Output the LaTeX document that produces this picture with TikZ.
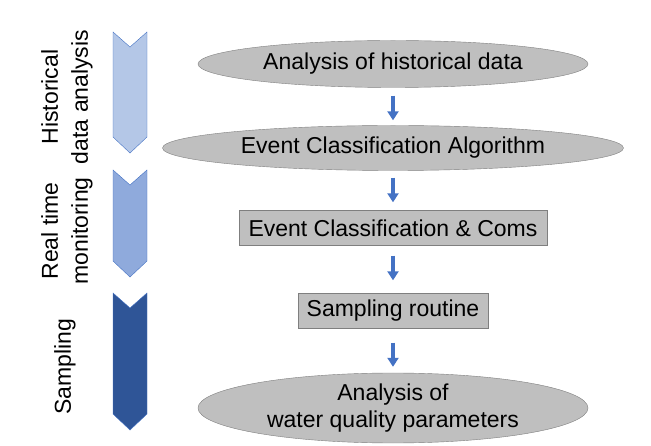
\documentclass[tikz,border=0pt]{standalone}
\usepackage{fontspec}
\setmainfont{Liberation Sans}
\usetikzlibrary{positioning,shapes.geometric,arrows.meta}

\definecolor{arrowblue}{HTML}{4472C4}
\definecolor{boxgray}{HTML}{BFBFBF}
\definecolor{edgegray}{HTML}{7F7F7F}
\definecolor{phaseA}{HTML}{B4C7E7}
\definecolor{phaseB}{HTML}{8FAADC}
\definecolor{phaseC}{HTML}{2F5597}

\tikzset{
  stage/.style={ellipse, draw=edgegray, fill=boxgray, inner sep=0pt, align=center},
  task/.style={rectangle, draw=edgegray, fill=boxgray, inner sep=0pt, minimum height=35pt},
  flow/.style={-{Triangle[width=11pt,length=9pt]}, line width=4pt, arrowblue},
  phase/.style={rotate=90, align=center, inner sep=0pt, font=\fontsize{23pt}{30pt}\selectfont},
}

\begin{document}
\begin{tikzpicture}[x=1pt, y=-1pt, node distance = 80pt, on grid,
    font=\fontsize{23pt}{27pt}\selectfont]
    \useasboundingbox (0,0) rectangle (651,446);

    % chevrons on the left
    \foreach \top/\bot/\col in {32/153/phaseA, 170/277/phaseB, 293/430/phaseC}
      \draw[arrowblue, fill=\col, line join=miter]
        (113,\top) -- (130,\top+15) -- (147,\top) -- (147,\bot-16)
        -- (130,\bot) -- (113,\bot-16) -- cycle;

    \node[phase] (hist) at (67,97) {Historical\\data analysis};
    \node[phase] (real) at (67,231) {Real time\\monitoring};
    \node[phase] (samp) at (65,367) {Sampling};

    % process chain
    \node[stage, minimum width=390pt, minimum height=47pt] (hdata) at (393,64) {Analysis of historical data};
    \node[stage, minimum width=461pt, minimum height=45pt] (algo) [below=84pt of hdata] {Event Classification Algorithm};
    \node[task, minimum width=308pt] (coms) [below=of algo] {Event Classification \& Coms};
    \node[task, minimum width=190pt] (routine) [below=83pt of coms] {Sampling routine};
    \node[stage, minimum width=390pt, minimum height=70pt, inner ysep=-3pt] (wq) [below=97pt of routine] {Analysis of\\water quality parameters};

    \draw[flow, shorten <=8pt, shorten >=5pt] (hdata) -- (algo);
    \draw[flow, shorten <=7pt, shorten >=8pt] (algo) -- (coms);
    \draw[flow, shorten <=10pt, shorten >=13pt] (coms) -- (routine);
    \draw[flow, shorten <=14pt, shorten >=6pt] (routine) -- (wq);
\end{tikzpicture}
\end{document}
